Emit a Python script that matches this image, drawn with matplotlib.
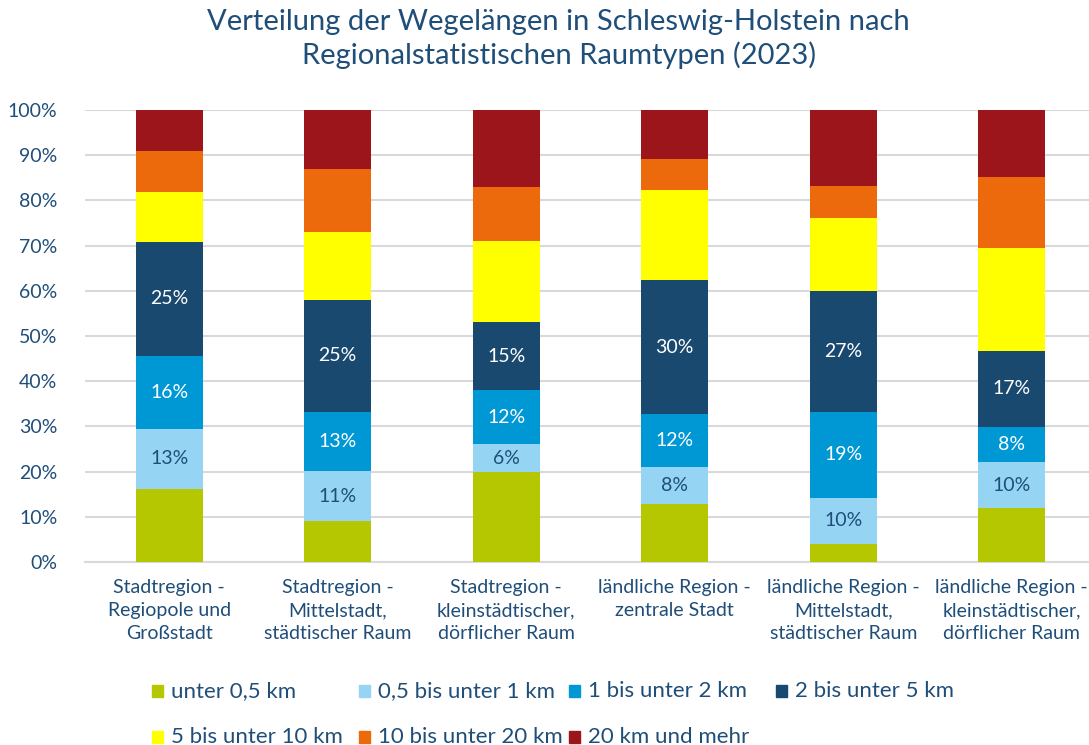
import numpy as np
import matplotlib.pyplot as plt
from matplotlib.patches import Rectangle
from matplotlib.ticker import MultipleLocator, PercentFormatter

plt.rcParams['font.family'] = ['Lato', 'DejaVu Sans']

# Raumtypen
kategorien = ['Stadtregion -\nRegiopole und\nGroßstadt',
              'Stadtregion -\nMittelstadt,\nstädtischer Raum',
              'Stadtregion -\nkleinstädtischer,\ndörflicher Raum',
              'ländliche Region -\nzentrale Stadt',
              'ländliche Region -\nMittelstadt,\nstädtischer Raum',
              'ländliche Region -\nkleinstädtischer,\ndörflicher Raum']

klassen = ['unter 0,5 km', '0,5 bis unter 1 km', '1 bis unter 2 km', '2 bis unter 5 km',
           '5 bis unter 10 km', '10 bis unter 20 km', '20 km und mehr']

# Anteile in %
unter_05 = [16.2, 9.1, 19.9, 12.8, 4.0, 11.9]
b05_1 = [13.2, 11.0, 6.2, 8.2, 10.2, 10.2]
b1_2 = [16.2, 13.1, 11.9, 11.7, 19.0, 7.8]
b2_5 = [25.2, 24.8, 15.1, 29.7, 26.8, 16.8]
b5_10 = [11.1, 15.0, 17.9, 19.9, 16.1, 22.8]
b10_20 = [9.0, 13.9, 12.0, 6.9, 7.1, 15.7]
ab20 = [9.1, 13.1, 17.0, 10.8, 16.8, 14.8]

werte = [unter_05, b05_1, b1_2, b2_5, b5_10, b10_20, ab20]
farben = ['#b5c700', '#95d5f3', '#0098d4', '#1a4970', '#ffff00', '#ec6a0c', '#9c151b']
# welche Klassen bekommen Beschriftung, und in welcher Farbe
label_farbe = [None, '#1f4e79', 'white', 'white', None, None, None]

txt = '#1f4e79'

fig = plt.figure(figsize=(10.89, 7.45), dpi=100)
ax = fig.add_axes([85/1089, 183/745, 1011/1089, 452/745])

x = np.arange(len(kategorien))
unten = np.zeros(len(kategorien))
for i in range(len(werte)):
    w = np.array(werte[i], dtype=float)
    ax.bar(x, w, 0.4, bottom=unten, color=farben[i], zorder=3)
    if label_farbe[i] is not None:
        for j in range(len(x)):
            ax.text(x[j], unten[j] + w[j]/2, '%d%%' % round(w[j]), ha='center', va='center',
                    fontsize=14, color=label_farbe[i], zorder=4)
    unten = unten + w

ax.set_xlim(-0.5, 5.5)
ax.set_ylim(0, 100)
ax.yaxis.set_major_locator(MultipleLocator(10))
ax.yaxis.set_major_formatter(PercentFormatter(decimals=0))
ax.grid(axis='y', color='#d9d9d9', linewidth=1.5, zorder=0)
for s in ['top', 'right', 'left']:
    ax.spines[s].set_visible(False)
ax.spines['bottom'].set_color('#d9d9d9')
ax.spines['bottom'].set_linewidth(1.5)
ax.tick_params(axis='both', length=0, labelsize=14, colors=txt)
ax.tick_params(axis='y', pad=20)
ax.tick_params(axis='x', pad=12)
ax.set_xticks(x)
ax.set_xticklabels(kategorien, linespacing=1.45)

fig.text(0.513, 0.948, 'Verteilung der Wegelängen in Schleswig-Holstein nach\nRegionalstatistischen Raumtypen (2023)',
         ha='center', va='center', fontsize=21, color=txt, linespacing=1.3)

# Legende
leg_pos = [(152, 691), (359, 691), (569, 691), (776, 691),
           (152, 737), (359, 737), (569, 737)]
for i in range(len(klassen)):
    px, py = leg_pos[i]
    fig.patches.append(Rectangle((px/1089, (745-py-6)/745), 11/1089, 12/745,
                                 transform=fig.transFigure, color=farben[i]))
    fig.text((px + 19)/1089, (745-py)/745, klassen[i], ha='left', va='center',
             fontsize=16, color=txt)

fig.savefig('out.png', dpi=100)
